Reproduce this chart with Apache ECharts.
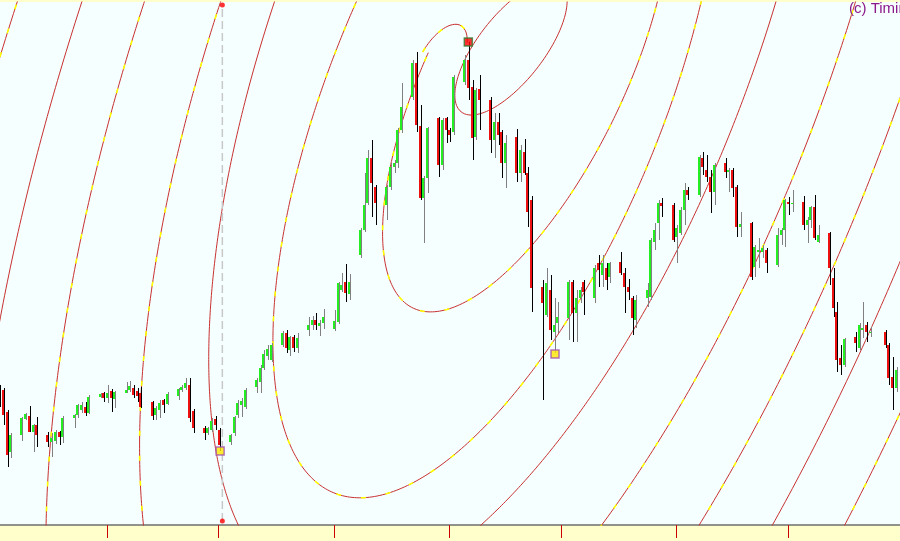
<!DOCTYPE html>
<html>
<head>
<meta charset="utf-8">
<script src="https://cdn.jsdelivr.net/npm/echarts/dist/echarts.min.js"></script>
<style>html,body{margin:0;padding:0;background:#ffffcc;}#c{width:900px;height:541px;}</style>
</head>
<body>
<div id="c"></div>
<script>
const YEAR = 2011;
const dates = [
'05-03','05-04','05-05','05-06',
'05-09','05-10','05-11','05-12','05-13',
'05-16','05-17','05-18','05-19','05-20',
'05-23','05-24','05-25','05-26','05-27',
'05-30','05-31','06-01','06-02','06-03',
'06-06','06-07','06-08','06-09','06-10',
'06-13','06-14','06-15','06-16','06-17',
'06-20','06-21','06-22','06-23','06-24',
'06-27','06-28','06-29','06-30','07-01',
'07-04','07-05','07-06','07-07','07-08',
'07-11','07-12','07-13','07-14','07-15',
'07-18','07-19','07-20','07-21','07-22',
'07-25','07-26','07-27','07-28','07-29',
'08-01','08-02','08-03','08-04','08-05',
'08-08','08-09','08-10','08-11','08-12',
'08-15','08-16','08-17','08-18','08-19',
'08-22','08-23','08-24','08-25','08-26',
'08-29','08-30','08-31','09-01','09-02',
'09-05','09-06','09-07','09-08','09-09',
'09-12','09-13','09-14','09-15','09-16',
'09-19','09-20','09-21','09-22','09-23',
'09-26','09-27','09-28','09-29','09-30',
'10-03','10-04','10-05','10-06','10-07',
'10-10','10-11','10-12','10-13','10-14',
'10-17','10-18','10-19','10-20','10-21',
'10-24','10-25','10-26','10-27','10-28',
'10-31','11-01','11-02','11-03','11-04',
'11-07','11-08','11-09','11-10','11-11',
'11-14','11-15','11-16','11-17','11-18',
'11-21','11-22','11-23','11-24','11-25',
'11-28','11-29','11-30','12-01','12-02',
'12-05','12-06','12-07','12-08','12-09',
'12-12','12-13','12-14','12-15','12-16',
'12-19','12-20','12-21','12-22','12-23',
'12-27','12-28','12-29','12-30'];
const opens = [
137,135,113,73, 90,106,109,93,100, 90,83,84,93,88, 107,110,115,118,112, 128,132,127,134,126,
132,135,137,134,132, 123,110,115,125,121, 129,135,137,140,114, 97,92,95,106,95, 83,92,110,120,118,
138,143,157,169,165, 180,192,175,188,177, 195,200,205,199,202, 196,203,235,243,231, 270,295,322,367,338,
320,338,358,362,395, 428,462,399,327,347, 407,360,407,395,393, 443,465,438,388,436, 425,385,403,393,362,
388,352,373,352,325, 238,210,235,193,202, 207,243,212,227,243, 227,262,250,257,248, 263,252,238,227,205,
227,228,283,302,322, 320,288,292,315,335, 330,367,355,348,333, 362,353,355,338,298, 302,258,273,273,275,
260,290,295,323,321, 323,300,305,318,283, 292,247,213,167,160, 188,177,195,200,192, 193,180,148,137];
const closes = [
127,110,70,90, 107,111,93,100,90, 83,87,93,88,107, 110,120,120,112,128, 131,127,132,127,133,
135,139,130,129,118, 109,117,122,120,131, 136,138,142,107,97, 92,97,104,100,80, 90,108,122,124,135,
145,157,171,176,180, 192,177,188,177,187, 200,205,200,202,208, 204,242,240,232,243, 295,320,367,342,322,
338,358,362,395,418, 462,400,327,347,397, 360,405,395,390,448, 465,437,387,435,425, 385,403,390,362,382,
352,375,352,313,237, 222,242,195,200,208, 243,212,227,235,233, 257,255,262,245,262, 252,238,233,207,225,
235,285,295,322,319, 285,297,315,335,330, 368,358,348,333,360, 353,355,337,298,301, 248,278,275,277,262,
290,295,325,321,322, 300,305,318,287,290, 257,217,165,160,186, 182,200,197,193,193, 180,147,137,155];
const lows = [
118,100,58,67, 84,105,93,73,78, 78,68,81,80,82, 97,107,112,109,111, 127,123,122,113,117,
132,133,127,123,117, 105,105,107,112,120, 125,133,135,103,92, 85,90,93,95,74, 80,89,107,108,116,
132,132,155,165,163, 178,172,169,173,172, 189,195,195,189,196, 194,201,233,223,225, 267,293,320,308,300,
305,335,352,357,392, 425,393,325,282,332, 348,355,382,383,390, 440,425,365,385,395, 372,367,380,347,337,
343,343,350,298,213, 125,208,185,172,192, 185,183,183,222,210, 222,238,238,235,242, 250,212,225,190,197,
218,225,275,285,308, 283,262,290,300,325, 328,350,343,312,320, 347,333,328,288,288, 245,248,257,267,252,
258,280,278,310,313, 295,282,297,285,282, 240,208,153,150,158, 173,175,187,183,188, 177,140,115,133];
const highs = [
140,137,115,92, 108,112,119,101,108, 93,92,95,94,109, 111,121,123,123,130, 132,133,140,136,134,
143,144,140,137,138, 124,119,125,126,133, 137,140,147,147,116, 99,98,107,109,97, 91,109,125,127,137,
147,160,175,180,182, 194,195,189,190,192, 208,209,212,205,216, 215,243,252,261,251, 297,352,375,385,340,
340,362,365,397,442, 465,473,420,349,398, 408,407,408,397,450, 470,483,445,437,450, 428,412,412,395,390,
396,380,386,358,329, 245,257,250,227,223, 245,245,235,238,245, 260,270,270,262,263, 273,257,246,229,230,
242,287,302,325,327, 322,300,318,342,338, 370,373,370,355,362, 367,357,357,340,313, 303,280,287,280,277,
297,297,326,328,335, 329,308,319,330,300, 293,257,223,180,187, 193,202,223,203,198, 195,182,168,158];

const monthStarts = ['06-01','07-01','08-01','09-01','10-01','11-01','12-01'];
const pivotHigh = {date:'09-06', value:483};
const pivotLows = [{date:'07-01', value:74},{date:'09-29', value:171}];
const markerDate = '07-01';

// ellipse overlays: center [day offset from Jun 1, value], semi-axes in value units,
// tilt in degrees, time/price scale, drawn arc range (degrees)
const PRICE_PER_DAY = 3.721;
const ellCenters = [[108.57,477],[112.6,450],[89.49,463],[104.81,430],[110.5,501],[113.95,501],[113.95,501],[113.95,501],[113.95,501]];
const ellA      = [81, 259, 42, 430, 606, 766, 949, 1102, 1257];
const ellB      = [33, 98, 20, 166, 237, 300, 372, 431, 492];
const ellAngle  = [52.1, 64.1, 60, 67.7, 69.1, 69.1, 69.1, 69.1, 69.1];
const ellArcs   = [[0,360],[15,265],[-90,44],[0,360],[0,360],[0,360],[0,360],[0,360],[0,360]];
const ellDashed = [false, true, true, true, false, true, true, false, true];

function dayOf(md){
  const p = md.split('-').map(Number);
  return (Date.UTC(YEAR, p[0]-1, p[1]) - Date.UTC(YEAR, 5, 1)) / 864e5;
}

const candles = dates.map((d,i)=>[dayOf(d), opens[i], closes[i], lows[i], highs[i]]);

function ellipsePts(i){
  const pts = [];
  const th = ellAngle[i]*Math.PI/180, ct = Math.cos(th), st = Math.sin(th);
  const t0 = ellArcs[i][0], t1 = ellArcs[i][1];
  const N = Math.max(60, Math.round((t1-t0)*2.5));
  for(let k=0;k<=N;k++){
    const t = (t0 + (t1-t0)*k/N)*Math.PI/180;
    const du = ellA[i]*Math.cos(t), dv = ellB[i]*Math.sin(t);
    pts.push([ellCenters[i][0] + (du*ct + dv*st)/PRICE_PER_DAY, ellCenters[i][1] + du*st - dv*ct]);
  }
  return pts;
}

const series = [];
for(let i=0;i<ellA.length;i++){
  const pts = ellipsePts(i);
  series.push({type:'line', data:pts, symbol:'none', silent:true, z:1, clip:true,
    lineStyle:{color:'#c83030', width:1}});
  if(ellDashed[i]){
    series.push({type:'line', data:pts, symbol:'none', silent:true, z:2, clip:true,
      lineStyle:{color:'#ffff00', width:1.6, type:[5,20]}});
  }
}
const vx = dayOf(markerDate) + 1;
series.push({type:'line', data:[[vx,4],[vx,520]], symbol:'none', silent:true, z:2,
  lineStyle:{color:'#c8c8c8', width:1.5, type:[8,4]}});
series.push({type:'scatter', data:[[vx,520],[vx,4]], symbol:'circle', symbolSize:5, z:4,
  itemStyle:{color:'#ff0000'}});

series.push({
  type:'custom', z:3, clip:true,
  encode:{x:0, y:[1,2,3,4]},
  data:candles,
  renderItem:function(params, api){
    const x=api.value(0), o=api.value(1), c=api.value(2), l=api.value(3), h=api.value(4);
    const pO=api.coord([x,o]), pC=api.coord([x,c]), pL=api.coord([x,l]), pH=api.coord([x,h]);
    const cx=Math.round(pO[0]);
    const up=c>=o;
    const top=Math.round(Math.min(pO[1],pC[1])), bot=Math.round(Math.max(pO[1],pC[1]));
    const wt=Math.round(pH[1]), wb=Math.round(pL[1]);
    return {type:'group', children:[
      {type:'rect', shape:{x:cx+1, y:wt, width:1, height:Math.max(1,wb-wt)}, style:{fill: up?'#808080':'#000000'}},
      {type:'rect', shape:{x:cx-1, y:top, width:2, height:Math.max(1,bot-top)}, style:{fill: up?'#22ee22':'#ee1111'}}
    ]};
  }
});

series.push({type:'scatter', z:5, symbol:'rect', symbolSize:8,
  data:[[dayOf(pivotHigh.date)+0.1, pivotHigh.value]],
  itemStyle:{color:'#ff0000', borderColor:'#2e7d32', borderWidth:1.5}});
series.push({type:'scatter', z:5, symbol:'rect', symbolSize:8,
  data:pivotLows.map(p=>[dayOf(p.date)+0.4, p.value]),
  itemStyle:{color:'#ffe600', borderColor:'#a050b0', borderWidth:1.5}});

const chart = echarts.init(document.getElementById('c'), null, {renderer:'canvas'});
chart.setOption({
  animation:false,
  backgroundColor:'#ffffcc',
  grid:{left:0, right:0, top:2, bottom:16, show:true, backgroundColor:'#f5ffff', borderWidth:0},
  xAxis:{type:'value', min:-28.756, max:213.115,
    axisLine:{show:true, lineStyle:{color:'#6e6e6e', width:1.5}},
    axisTick:{show:true, customValues:monthStarts.map(dayOf), length:13, lineStyle:{color:'#cc0000', width:1}},
    axisLabel:{show:false}, splitLine:{show:false}},
  yAxis:{type:'value', min:0, max:523, show:false, splitLine:{show:false}},
  graphic:[{type:'text', left:849, top:1, z:100,
    style:{text:'(c) Timing Solution', fill:'#8b1a8b', fontSize:15, fontFamily:'"Liberation Sans", Arial, sans-serif'}}],
  series:series
});
</script>
</body>
</html>
